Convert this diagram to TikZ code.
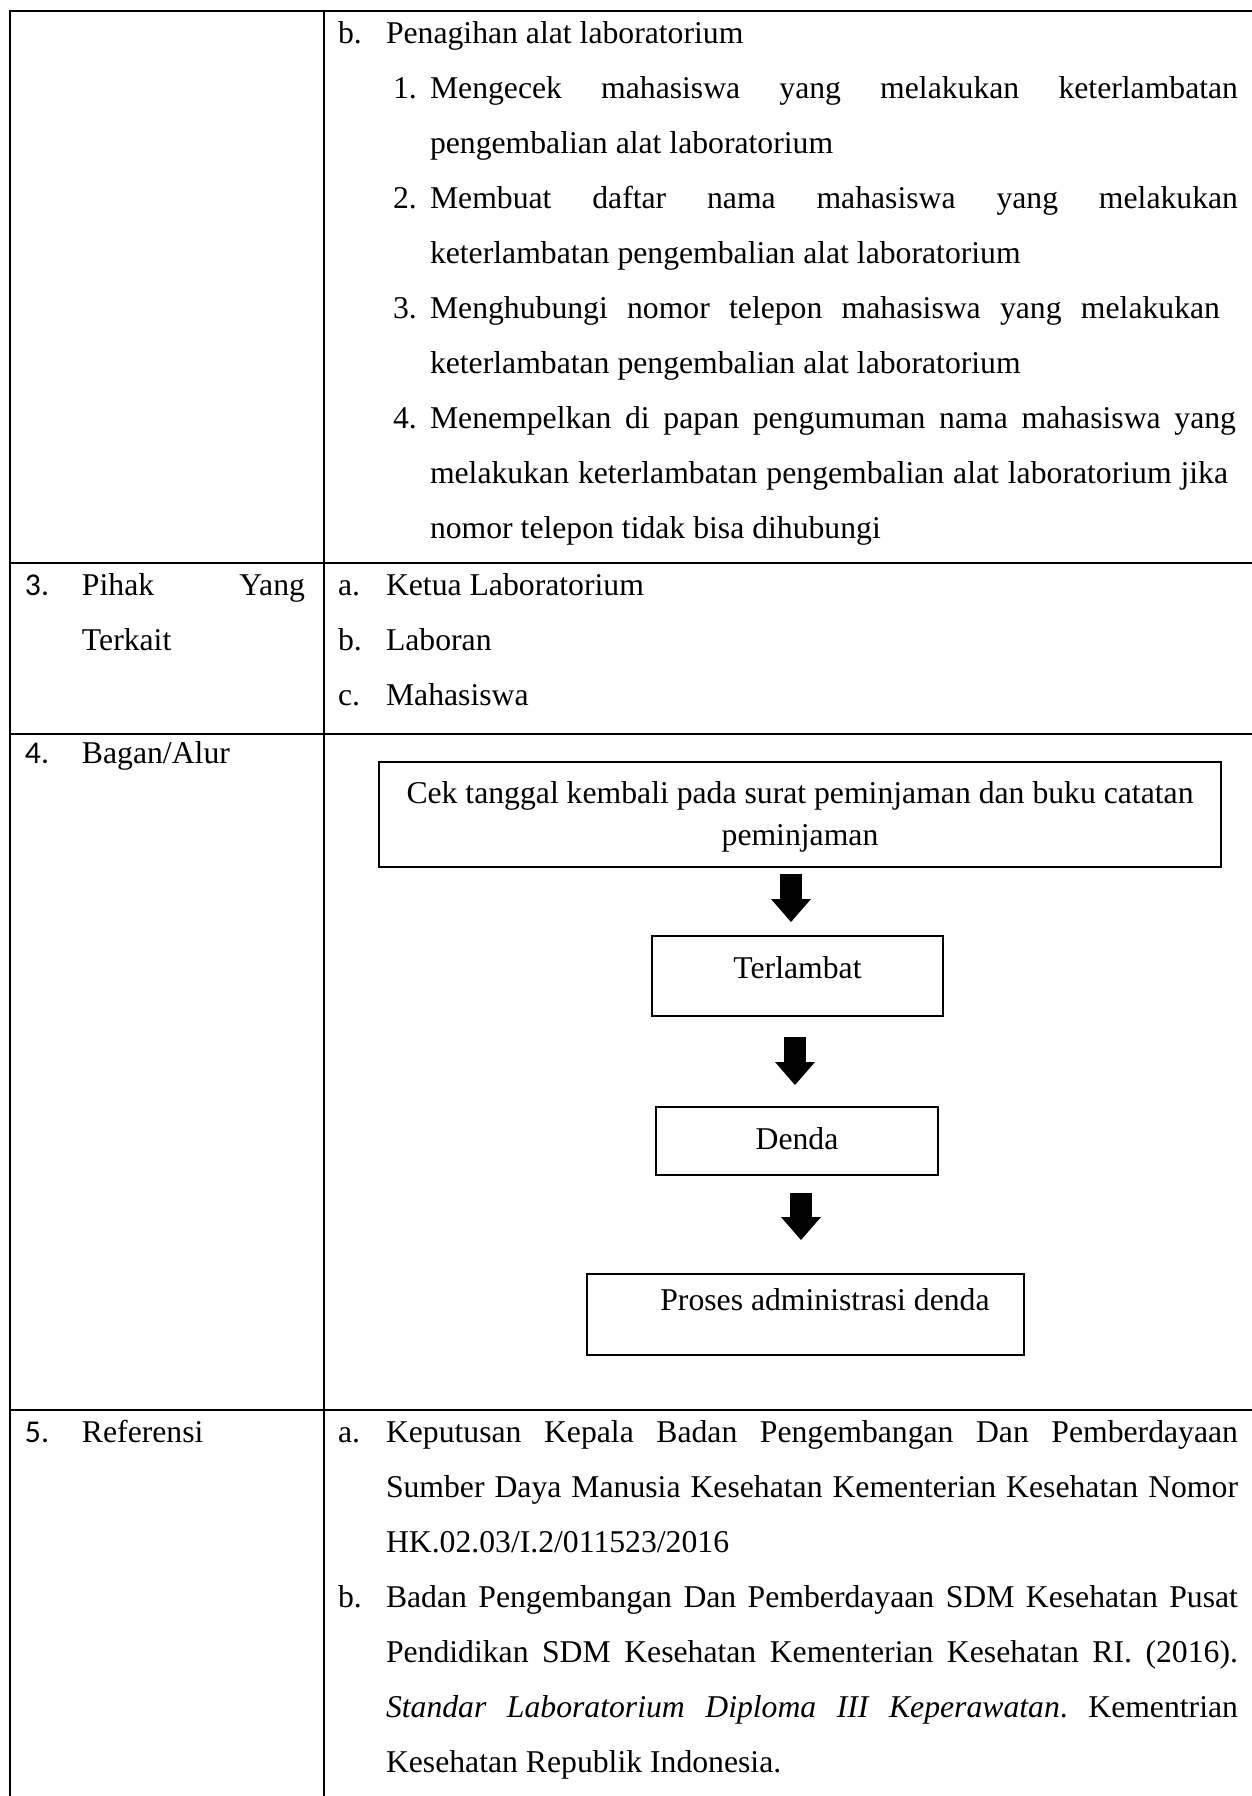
\documentclass[tikz,border=0pt]{standalone}
\usepackage{fontspec}
\setmainfont{Liberation Serif}
\newfontfamily\numfont{Carlito}
\usetikzlibrary{arrows.meta}
\frenchspacing
% a line of justified text stretched to a given width
\newcommand{\jst}[2]{\makebox[#1][s]{#2}}
\begin{document}
\begin{tikzpicture}[x=0.5pt,y=-0.5pt,
  every node/.style={inner sep=0pt,outer sep=0pt},
  txt/.style={anchor=base west,font=\fontsize{15.85pt}{27.4pt}\selectfont},
  num/.style={anchor=base west,font=\numfont\fontsize{15.85pt}{27.4pt}\selectfont},
  rule/.style={line width=1pt,line cap=rect},
  flowbox/.style={draw,line width=1pt,font=\fontsize{15.85pt}{21pt}\selectfont},
  blockarrow/.style={line width=11pt,-{Triangle[width=20pt,length=11.5pt,line width=0pt]}}
]
\useasboundingbox (0,0) rectangle (1252,1796);
\fill[white] (0,0) rectangle (1252,1796);

% table rules
\draw[rule] (10,11) -- (1252,11);
\draw[rule] (10,563) -- (1252,563);
\draw[rule] (10,734) -- (1252,734);
\draw[rule] (10,1410) -- (1252,1410);
\draw[rule] (10,11) -- (10,1796);
\draw[rule] (324,11) -- (324,1796);

% row 2 (continued): collection of laboratory equipment
\node[txt] (l0a) at (338,43) {b.};
\node[txt] (l0) at (386,43) {Penagihan alat laboratorium};
\node[txt] (l1a) at (393,98) {1.};
\node[txt] (l1) at (430,98) {\jst{404pt}{Mengecek mahasiswa yang melakukan keterlambatan}};
\node[txt] (l2) at (430,153) {pengembalian alat laboratorium};
\node[txt] (l3a) at (393,208) {2.};
\node[txt] (l3) at (430,208) {\jst{404pt}{Membuat daftar nama mahasiswa yang melakukan}};
\node[txt] (l4) at (430,263) {keterlambatan pengembalian alat laboratorium};
\node[txt] (l5a) at (393,318) {3.};
\node[txt] (l5) at (430,318) {\jst{395pt}{Menghubungi nomor telepon mahasiswa yang melakukan}};
\node[txt] (l6) at (430,373) {keterlambatan pengembalian alat laboratorium};
\node[txt] (l7a) at (393,428) {4.};
\node[txt] (l7) at (430,428) {\jst{403pt}{Menempelkan di papan pengumuman nama mahasiswa yang}};
\node[txt] (l8) at (430,483) {\jst{399pt}{melakukan keterlambatan pengembalian alat laboratorium jika}};
\node[txt] (l9) at (430,538) {nomor telepon tidak bisa dihubungi};

% row 3: parties involved
\node[num] (n3) at (25,595) {3.};
\node[txt] (p3) at (82,595) {\jst{111.5pt}{Pihak Yang}};
\node[txt] (p3b) at (82,650) {Terkait};
\node[txt] (k1a) at (338,595) {a.};
\node[txt] (k1) at (386,595) {Ketua Laboratorium};
\node[txt] (k2a) at (338,650) {b.};
\node[txt] (k2) at (386,650) {Laboran};
\node[txt] (k3a) at (338,705) {c.};
\node[txt] (k3) at (386,705) {Mahasiswa};

% row 4: flow chart
\node[num] (n4) at (25,763) {4.};
\node[txt] (bagan) at (82,763) {Bagan/Alur};

\node[flowbox,minimum width=421pt,minimum height=52.5pt,text height=34pt,text depth=3.5pt] (cek) at (800,814.5)
  {\vbox{\baselineskip=21pt
    \hbox to 421pt{\hfil Cek tanggal kembali pada surat peminjaman dan buku catatan\hfil}
    \hbox to 421pt{\hfil peminjaman\hfil}}};
\node[flowbox,minimum width=145.5pt,minimum height=40pt,text height=11pt,text depth=9pt] (late) at (797.5,976) {Terlambat};
\node[flowbox,minimum width=141pt,minimum height=34pt,text height=12pt,text depth=4pt] (fine) at (797,1141) {Denda};
\node[flowbox,minimum width=218.5pt,minimum height=40.5pt,text height=8pt,text depth=12.5pt] (admin) at (805.5,1314.5) {\hspace*{19.5pt}Proses administrasi denda};

\coordinate (ax1) at (791,0);
\coordinate (ax2) at (795,0);
\coordinate (ax3) at (801,0);
\draw[blockarrow,shorten <=3.5pt,shorten >=7pt] (cek.south -| ax1) -- (late.north -| ax1);
\draw[blockarrow,shorten <=10.5pt,shorten >=11pt] (late.south -| ax2) -- (fine.north -| ax2);
\draw[blockarrow,shorten <=9pt,shorten >=17pt] (fine.south -| ax3) -- (admin.north -| ax3);

% row 5: references
\node[num] (n5) at (25,1442) {5.};
\node[txt] (ref) at (82,1442) {Referensi};
\node[txt] (r1a) at (338,1442) {a.};
\node[txt] (r1) at (386,1442) {\jst{426pt}{Keputusan Kepala Badan Pengembangan Dan Pemberdayaan}};
\node[txt] (r2) at (386,1497) {\jst{426pt}{Sumber Daya Manusia Kesehatan Kementerian Kesehatan Nomor}};
\node[txt] (r3) at (386,1552) {HK.02.03/I.2/011523/2016};
\node[txt] (r4a) at (338,1607) {b.};
\node[txt] (r4) at (386,1607) {\jst{426pt}{Badan Pengembangan Dan Pemberdayaan SDM Kesehatan Pusat}};
\node[txt] (r5) at (386,1662) {\jst{426pt}{Pendidikan SDM Kesehatan Kementerian Kesehatan RI. (2016).}};
\node[txt] (r6) at (386,1717) {\jst{426pt}{\textit{Standar Laboratorium Diploma III Keperawatan}. Kementrian}};
\node[txt] (r7) at (386,1772) {Kesehatan Republik Indonesia.};
\end{tikzpicture}
\end{document}
